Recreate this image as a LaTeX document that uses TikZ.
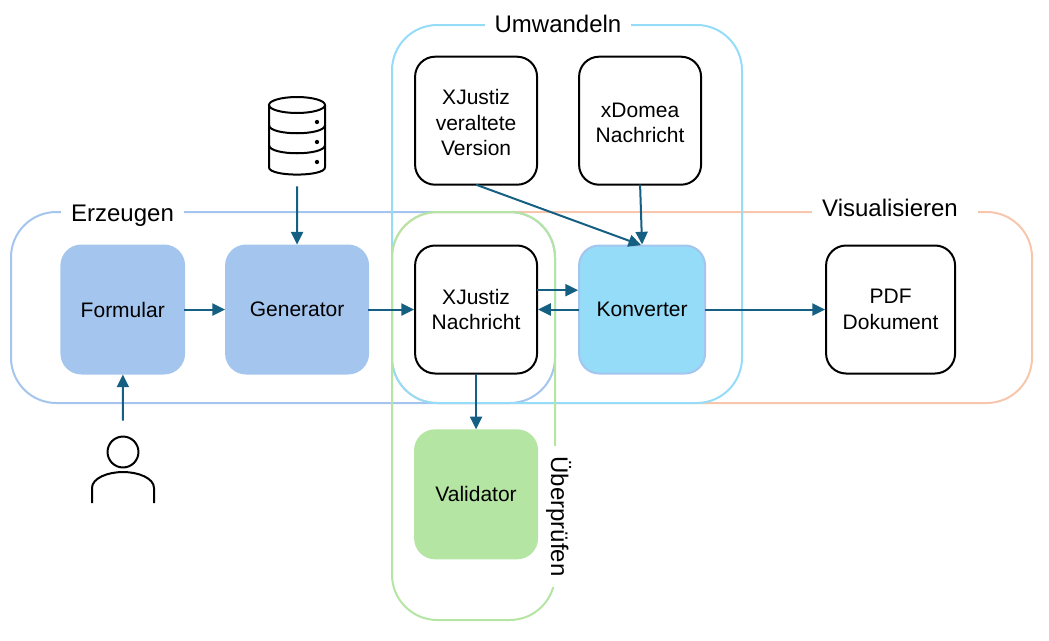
\documentclass[tikz,border=0pt]{standalone}
\usepackage{fontspec}
\setmainfont{Liberation Sans}
\usepackage{xcolor}
\usetikzlibrary{arrows.meta, positioning}

\definecolor{erzeugenblue}{HTML}{A4C5EE}
\definecolor{umwandelnblue}{HTML}{94DCF8}
\definecolor{pruefgreen}{HTML}{B4E5A2}
\definecolor{visorange}{HTML}{F6C6AD}
\definecolor{arrowteal}{HTML}{156082}

\newcommand{\lowline}{\rule{0pt}{14.5pt}}

\begin{document}
\begin{tikzpicture}[
    x=0.75pt, y=-0.75pt,
    block/.style={rectangle, rounded corners=15pt, draw, line width=1.5pt, outer sep=0pt,
                  minimum width=91.5pt, minimum height=96pt, align=center,
                  font=\fontsize{15.75}{19}\selectfont},
    filledblock/.style={block, draw=#1, fill=#1},
    frame/.style={rounded corners=34pt, line width=1.5pt},
    grouplabel/.style={fill=white, inner xsep=7.5pt, inner ysep=1pt, anchor=base,
                  font=\fontsize{18}{22}\selectfont},
    icon/.style={minimum width=48pt, inner sep=0pt},
    arr/.style={-{Triangle[length=9.5pt, width=9pt]}, line width=1.5pt, arrowteal,
                shorten >=0.75pt}
]
    \useasboundingbox (0,0) rectangle (1049,640);

    % Group frames
    \draw[frame, visorange] (392,212) rectangle (1032,403);
    \draw[frame, erzeugenblue] (11,212) rectangle (555,403);
    \draw[frame, umwandelnblue] (392,25) rectangle (742,403);
    \draw[frame, pruefgreen] (392,212) rectangle (555,620);

    \node[grouplabel] (erzeugen) at (122.5,221.5) {Erzeugen};
    \node[grouplabel] (umwandeln) at (558,32.5) {Umwandeln};
    \node[grouplabel] (visualisieren) at (895,216.5) {Visualisieren\hspace{7.5pt}\mbox{}};
    \node[grouplabel, rotate=-90] (ueberpruefen) at (551,516.5) {Überprüfen};

    \node[filledblock=erzeugenblue, minimum width=92pt] (formular) at (122.75,309.5) {Formular};
    \node[filledblock=erzeugenblue, minimum width=106.5pt, right=31.5pt of formular] (generator) {Generator};
    \node[block, right=35.25pt of generator] (xjustiz) {XJustiz\\Nachricht};
    \node[filledblock=umwandelnblue, draw=erzeugenblue, minimum width=94.5pt,
          right=31.5pt of xjustiz] (konverter) {Konverter};
    \node[block, minimum width=96.75pt, right=90.75pt of konverter] (pdf) {PDF\\Dokument};
    \node[filledblock=pruefgreen, below=42.6pt of xjustiz] (validator) {Validator};
    \node[block, above=45.6pt of xjustiz] (veraltet) {\lowline XJustiz\\veraltete\\Version};
    \node[block, above=45.6pt of konverter.north west, anchor=south west] (xdomea) {\lowline xDomea\\Nachricht};

    \node[icon, minimum height=75pt] (db) at (297,136) {};
    \node[icon, minimum height=61.5pt] (user) at (123,462) {};

    % Database icon
    \draw[line width=1.5pt, rounded corners=1pt] (269,105) -- (269,166)
          .. controls (269,177) and (325,177) .. (325,166) -- (325,105);
    \draw[line width=1.5pt] (297,105) ellipse [x radius=21pt, y radius=6pt];
    \foreach \dbline in {125,145}
        \draw[line width=1.5pt] (269,\dbline) .. controls (269,\dbline+11) and (325,\dbline+11) .. (325,\dbline);
    \foreach \dbdot in {122,142,162}
        \fill (317,\dbdot) circle [radius=1.6pt];

    % User icon
    \draw[line width=1.5pt] (123,452) circle [radius=11.6pt];
    \draw[line width=1.5pt] (92,503) -- (92,488)
          .. controls (92,478) and (108,472) .. (123,472)
          .. controls (138,472) and (154,478) .. (154,488) -- (154,503);

    \draw[arr] (db) -- (generator);
    \draw[arr] (user) -- (formular);
    \draw[arr] (formular) -- (generator);
    \draw[arr] (generator) -- (xjustiz);
    \draw[arr] ([yshift=14.5pt]xjustiz.east) -- ([yshift=14.5pt]konverter.west);
    \draw[arr] (konverter) -- (xjustiz);
    \draw[arr] (konverter) -- (pdf);
    \draw[arr] (xjustiz) -- (validator);
    \draw[arr] (veraltet.south) -- (konverter.north);
    \draw[arr] (xdomea.south) -- (konverter.north);
\end{tikzpicture}
\end{document}
